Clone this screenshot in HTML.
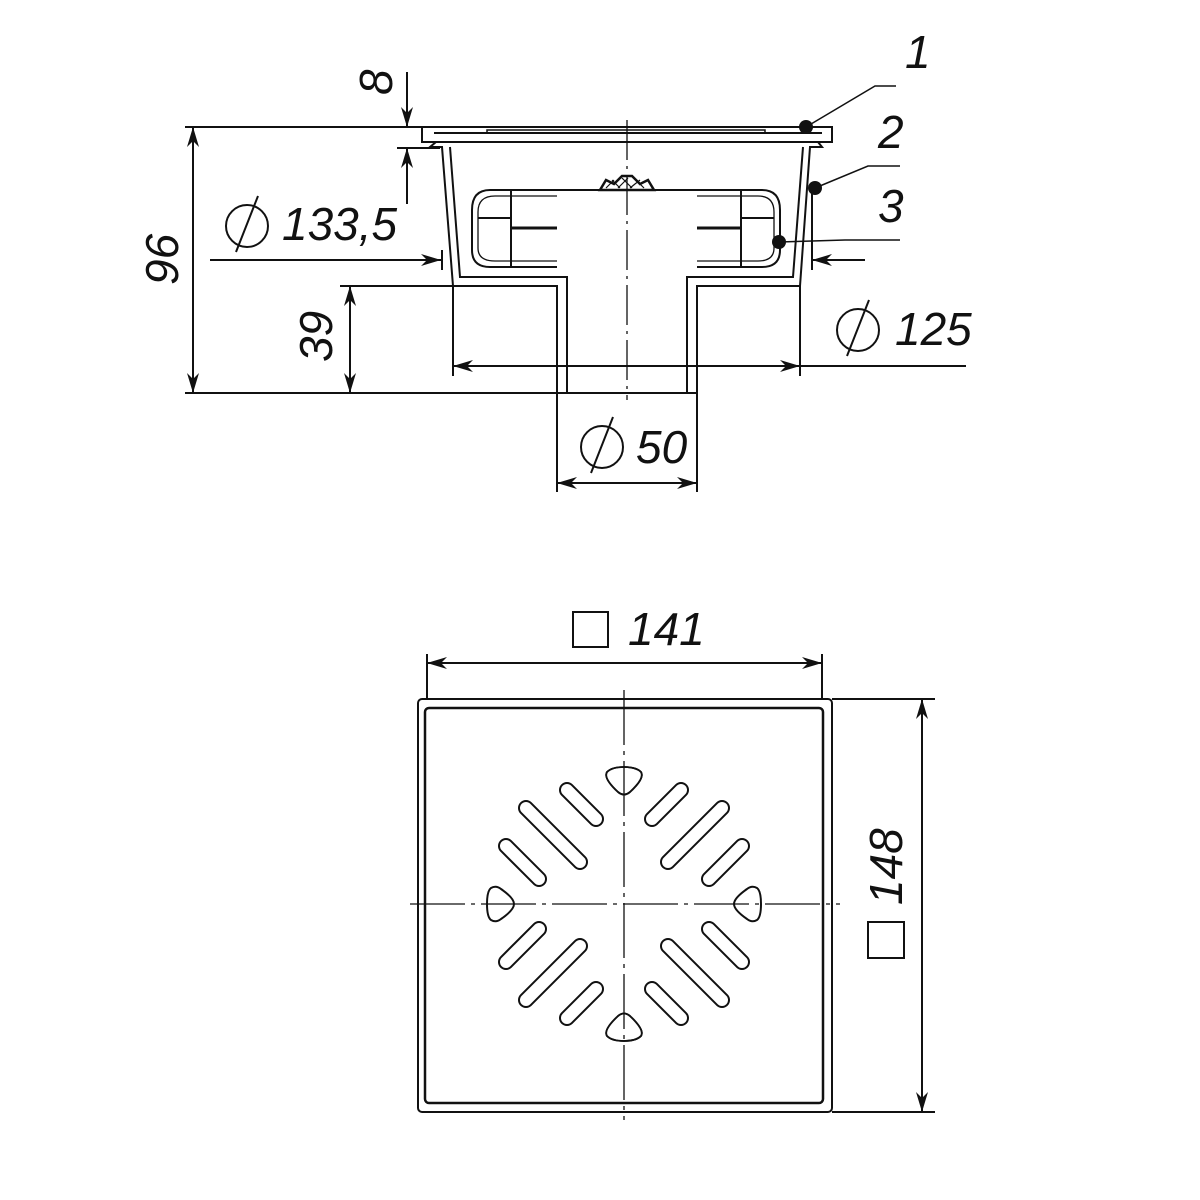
<!DOCTYPE html>
<html><head><meta charset="utf-8"><style>
html,body{margin:0;padding:0;background:#fff;width:1200px;height:1200px;overflow:hidden}
text{font-family:"Liberation Sans",sans-serif;font-style:italic;fill:#111}
</style></head><body>
<svg width="1200" height="1200" viewBox="0 0 1200 1200" xmlns="http://www.w3.org/2000/svg">
<defs>
<marker id="a" viewBox="0 0 20 12" refX="20" refY="6" markerWidth="20" markerHeight="12" markerUnits="userSpaceOnUse" orient="auto-start-reverse">
<path d="M0,0 L20,6 L0,12 L6,6 Z" fill="#111"/></marker>
</defs>
<g stroke="#111" stroke-width="2" fill="none">
<line x1="185" y1="127" x2="422" y2="127"/>
<line x1="185" y1="393" x2="557" y2="393"/>
<line x1="340" y1="286" x2="453" y2="286"/>
<line x1="397" y1="148" x2="440" y2="148"/>
<line x1="193" y1="127" x2="193" y2="393" marker-start="url(#a)" marker-end="url(#a)"/>
<line x1="350" y1="286" x2="350" y2="393" marker-start="url(#a)" marker-end="url(#a)"/>
<line x1="407" y1="72" x2="407" y2="127" marker-end="url(#a)"/>
<line x1="407" y1="204" x2="407" y2="148" marker-end="url(#a)"/>
<line x1="210" y1="260" x2="441" y2="260" marker-end="url(#a)"/>
<line x1="442" y1="250" x2="442" y2="270"/>
<line x1="865" y1="260" x2="812" y2="260" marker-end="url(#a)"/>
<line x1="812" y1="190" x2="812" y2="270"/>
<line x1="453" y1="286" x2="453" y2="376"/>
<line x1="800" y1="286" x2="800" y2="376"/>
<line x1="453" y1="366" x2="800" y2="366" marker-start="url(#a)" marker-end="url(#a)"/>
<line x1="800" y1="366" x2="966" y2="366"/>
<line x1="557" y1="393" x2="557" y2="492"/>
<line x1="697" y1="393" x2="697" y2="492"/>
<line x1="557" y1="483" x2="697" y2="483" marker-start="url(#a)" marker-end="url(#a)"/>
<path d="M422,127 L832,127 L832,142 L818,142 L822,147 L810,147 L800,286 L697,286 L697,393 L557,393 L557,286 L453,286 L442,147 L430,147 L436,142 L422,142 Z"/>
<path d="M434,133 L822,133 M450,147 L460,277 L567,277 L567,393 M687,393 L687,277 L793,277 L803,147 M430,142 L826,142"/>
<path d="M487,133 L487,130 L765,130 L765,133" stroke-width="1.5"/>
<path d="M557,190 L490,190 Q472,190 472,210 L472,250 Q472,267 490,267 L557,267"/>
<path d="M697,190 L762,190 Q780,190 780,210 L780,250 Q780,267 762,267 L697,267"/>
<path d="M557,196 L495,196 Q478,196 478,212 L478,248 Q478,261 495,261 L557,261" stroke-width="1.3"/>
<path d="M697,196 L758,196 Q774,196 774,212 L774,248 Q774,261 758,261 L697,261" stroke-width="1.3"/>
<line x1="511" y1="190" x2="511" y2="267"/><line x1="741" y1="190" x2="741" y2="267"/>
<line x1="478" y1="218" x2="511" y2="218"/><line x1="511" y1="228" x2="557" y2="228" stroke-width="3"/>
<line x1="741" y1="218" x2="774" y2="218"/><line x1="697" y1="228" x2="741" y2="228" stroke-width="3"/>
<line x1="557" y1="190" x2="697" y2="190"/>
<path d="M600,190 L606,180 L614,184 L622,176 L632,176 L640,184 L648,180 L654,190 Z" stroke-width="2.5"/>
<path d="M606,188 L614,180 M618,188 L628,178 M630,188 L640,180 M644,188 L636,180 M632,188 L622,178 M620,188 L612,180" stroke-width="1.2"/>
<line x1="627" y1="120" x2="627" y2="400" stroke-width="1.3" stroke-dasharray="40,6,3,6"/>
<path d="M806,127 L875,86 L896,86 M815,188 L868,166 L900,166 M779,242 L845,240 L900,240" stroke-width="1.5"/>
</g>
<g fill="#111">
<circle cx="806" cy="127" r="7"/><circle cx="815" cy="188" r="7"/><circle cx="779" cy="242" r="7"/>
</g>
<g font-size="46">
<text x="905" y="68">1</text>
<text x="878" y="148">2</text>
<text x="878" y="222">3</text>
<text x="282" y="240">133,5</text>
<text x="895" y="345">125</text>
<text x="636" y="463">50</text>
<text transform="translate(392,95) rotate(-90)">8</text>
<text transform="translate(178,285) rotate(-90)">96</text>
<text transform="translate(332,362) rotate(-90)">39</text>
<text x="628" y="645">141</text>
<text transform="translate(902,905) rotate(-90)">148</text>
</g>
<g stroke="#111" stroke-width="2" fill="none">
<circle cx="247" cy="226" r="21"/><line x1="236" y1="252" x2="258" y2="196"/>
<circle cx="858" cy="330" r="21"/><line x1="847" y1="356" x2="869" y2="300"/>
<circle cx="602" cy="447" r="21"/><line x1="591" y1="473" x2="613" y2="417"/>
<rect x="573" y="612" width="35" height="35"/>
<rect x="868" y="922" width="36" height="36"/>
<line x1="427" y1="654" x2="427" y2="700"/><line x1="822" y1="654" x2="822" y2="700"/>
<line x1="427" y1="663" x2="822" y2="663" marker-start="url(#a)" marker-end="url(#a)"/>
<line x1="832" y1="699" x2="935" y2="699"/><line x1="832" y1="1112" x2="935" y2="1112"/>
<line x1="922" y1="699" x2="922" y2="1112" marker-start="url(#a)" marker-end="url(#a)"/>
<rect x="418" y="699" width="414" height="413" rx="4"/>
<rect x="425" y="708" width="398" height="395" rx="4" stroke-width="2.5"/>
<line x1="624" y1="690" x2="624" y2="1120" stroke-width="1.3" stroke-dasharray="55,6,4,6"/>
<line x1="410" y1="904" x2="840" y2="904" stroke-width="1.3" stroke-dasharray="55,6,4,6"/>
<g id="q" stroke-width="1.8">
<line x1="567" y1="790" x2="596" y2="819" stroke-width="16" stroke-linecap="round" stroke="#111"/>
<line x1="567" y1="790" x2="596" y2="819" stroke-width="12" stroke-linecap="round" stroke="#fff"/>
<line x1="526" y1="808" x2="580" y2="862" stroke-width="16" stroke-linecap="round" stroke="#111"/>
<line x1="526" y1="808" x2="580" y2="862" stroke-width="12" stroke-linecap="round" stroke="#fff"/>
<line x1="506" y1="846" x2="539" y2="879" stroke-width="16" stroke-linecap="round" stroke="#111"/>
<line x1="506" y1="846" x2="539" y2="879" stroke-width="12" stroke-linecap="round" stroke="#fff"/>
<path d="M607,772 Q612,767 624,767 Q636,767 641,772 Q645,778 630,792 Q624,797 618,792 Q603,778 607,772 Z"/>
</g>
<use href="#q" transform="translate(1248,0) scale(-1,1)"/>
<use href="#q" transform="translate(0,1808) scale(1,-1)"/>
<use href="#q" transform="translate(1248,1808) scale(-1,-1)"/>
<path d="M491,888 Q496,885 501,889 Q514,898 514,904 Q514,910 501,919 Q496,923 491,920 Q487,917 487,904 Q487,891 491,888 Z"/>
<path d="M757,888 Q752,885 747,889 Q734,898 734,904 Q734,910 747,919 Q752,923 757,920 Q761,917 761,904 Q761,891 757,888 Z"/>
</g>
</svg>
</body></html>
